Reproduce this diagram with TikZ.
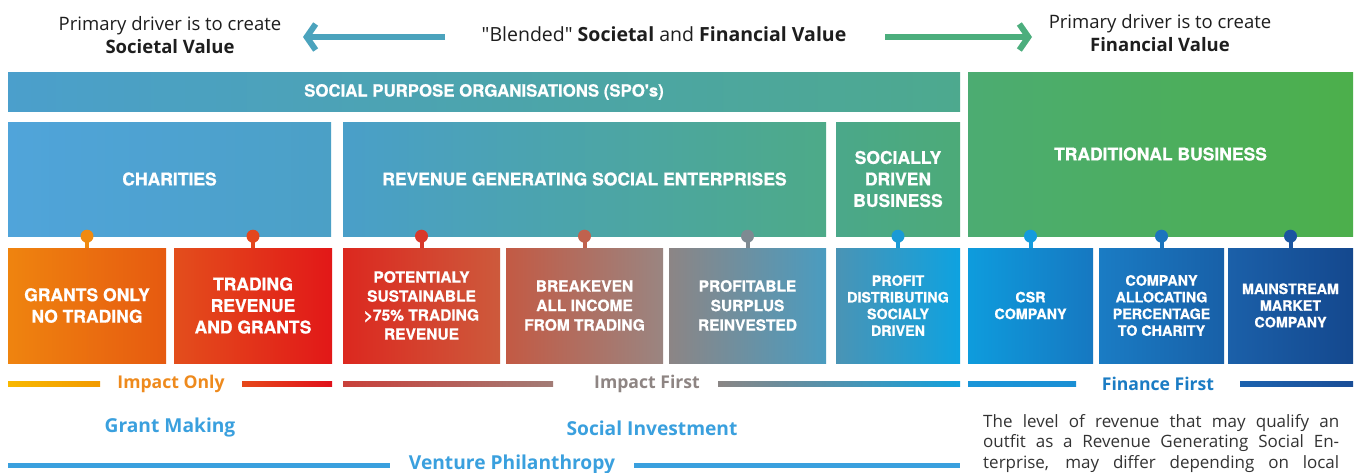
\documentclass[tikz,border=0pt]{standalone}
\usepackage{fontspec}
\setmainfont{Open Sans}
\newfontfamily\qfont{Open Sans}
\newfontfamily\boxfont{texgyreheros-bold.otf}[FakeBold=0.8]
\usetikzlibrary{arrows.meta}
\definecolor{txt}{HTML}{1E1E1E}
\definecolor{parcol}{HTML}{333333}
\definecolor{arrL}{HTML}{4BA3BD}
\definecolor{arrR}{HTML}{4CAE7D}
\definecolor{lblue}{HTML}{3AA0DE}
% box gradients
\definecolor{spoA}{HTML}{4B9FCC}\definecolor{spoB}{HTML}{4DA98E}
\definecolor{trA}{HTML}{4CAC72}\definecolor{trB}{HTML}{4CAF4B}
\definecolor{chA}{HTML}{50A4DA}\definecolor{chB}{HTML}{4BA0C6}
\definecolor{rgA}{HTML}{4A9FC9}\definecolor{rgB}{HTML}{4DAA88}
\definecolor{sdA}{HTML}{4BA88A}\definecolor{sdB}{HTML}{4CAA78}
\definecolor{grA}{HTML}{EF840F}\definecolor{grB}{HTML}{E65A10}
\definecolor{tdA}{HTML}{E34E1C}\definecolor{tdB}{HTML}{E21818}
\definecolor{poA}{HTML}{DC281F}\definecolor{poB}{HTML}{CD5A3C}
\definecolor{bkA}{HTML}{C35A44}\definecolor{bkB}{HTML}{9A8581}
\definecolor{pfA}{HTML}{8C8585}\definecolor{pfB}{HTML}{4A9CC0}
\definecolor{pdA}{HTML}{4A94B5}\definecolor{pdB}{HTML}{0EA2E0}
\definecolor{csA}{HTML}{0E9CDD}\definecolor{csB}{HTML}{1678C1}
\definecolor{alA}{HTML}{1A7CC4}\definecolor{alB}{HTML}{1860A8}
\definecolor{mnA}{HTML}{1B60A9}\definecolor{mnB}{HTML}{14488E}
% pins
\definecolor{pinGr}{HTML}{F08A0F}\definecolor{pinTd}{HTML}{E4461C}
\definecolor{pinPo}{HTML}{D8382A}\definecolor{pinBk}{HTML}{C0624E}
\definecolor{pinPf}{HTML}{7E8A92}\definecolor{pinPd}{HTML}{1A9AD6}
\definecolor{pinCs}{HTML}{139BDD}\definecolor{pinAl}{HTML}{1A74BD}
\definecolor{pinMn}{HTML}{1A55A0}
% bars
\definecolor{b1A}{HTML}{F8B800}\definecolor{b1B}{HTML}{F29A00}
\definecolor{b2A}{HTML}{E6481A}\definecolor{b2B}{HTML}{E0101A}
\definecolor{b3A}{HTML}{C9403A}\definecolor{b3B}{HTML}{A27C76}
\definecolor{b4A}{HTML}{8A8685}\definecolor{b4B}{HTML}{12A0DC}
\definecolor{b5A}{HTML}{1A95D8}\definecolor{b5B}{HTML}{1A8FD4}
\definecolor{b6A}{HTML}{1C62AE}\definecolor{b6B}{HTML}{1A4E97}
\definecolor{ionlyC}{HTML}{EE8A1D}
\definecolor{ifirstC}{HTML}{8E8583}
\definecolor{ffirstC}{HTML}{1B7CC4}
\begin{document}
\begin{tikzpicture}[x=1pt,y=-1pt,
  box/.style={draw=none, inner sep=0pt, text=white, align=center,
    font=\boxfont\fontsize{17.5}{21.5}\selectfont},
  mbox/.style={box, font=\boxfont\fontsize{15.5}{19.5}\selectfont},
  sbox/.style={box, font=\boxfont\fontsize{14.3}{16.7}\selectfont},
  pinstem/.style={draw=#1, line width=4pt},
  pinhead/.style={circle, fill=#1, inner sep=0pt, minimum size=13pt},
  toplbl/.style={align=center, text=txt, font=\fontsize{18.5}{23.5}\selectfont},
  band/.style={font=\bfseries\fontsize{17.6}{20}\selectfont},
  fund/.style={text=lblue, font=\bfseries\fontsize{19.2}{22}\selectfont},
  bigarrow/.style={line width=6pt, -{Straight Barb[length=9pt,width=26pt]}},
  parline/.style={anchor=west, inner sep=0pt, text=parcol, font=\fontsize{17}{20}\selectfont}
]
\useasboundingbox[fill=white] (0,0) rectangle (1357,472);

% top labels
\node[toplbl] (soc) at (170,35) {Primary driver is to create\\\textbf{Societal Value}};
\node[toplbl, font=\fontsize{19.5}{23.5}\selectfont] (blend) at (664,34) {{\qfont"}Blended{\qfont"} \textbf{Societal} and \textbf{Financial Value}};
\node[toplbl] (fin) at (1160,33) {Primary driver is to create\\\textbf{Financial Value}};
\coordinate (laS) at (445,37);
\coordinate (laE) at (303,37);
\coordinate (raS) at (885,37);
\coordinate (raE) at (1032,37);
\draw[bigarrow, draw=arrL] (laS) -- (laE);
\draw[bigarrow, draw=arrR] (raS) -- (raE);

% header boxes
\node[box, left color=spoA, right color=spoB, minimum width=952pt, minimum height=39pt,
  font=\boxfont\fontsize{16.8}{18}\selectfont] (spo) at (484,92) {SOCIAL PURPOSE ORGANISATIONS (SPO's)};
\node[box, left color=trA, right color=trB, minimum width=385pt, minimum height=164pt] (trad) at (1160.5,154) {TRADITIONAL BUSINESS};
\node[box, left color=chA, right color=chB, minimum width=323pt, minimum height=114pt] (char) at (169.5,179) {CHARITIES};
\node[box, left color=rgA, right color=rgB, minimum width=483pt, minimum height=114pt] (rgse) at (584.5,179) {REVENUE GENERATING SOCIAL ENTERPRISES};
\node[box, left color=sdA, right color=sdB, minimum width=124pt, minimum height=114pt] (sdb) at (898,179) {SOCIALLY\\DRIVEN\\BUSINESS};

% child boxes
\node[box, left color=grA, right color=grB, minimum width=158pt, minimum height=115pt] (grants) at (87,305.5) {GRANTS ONLY\\NO TRADING};
\node[box, left color=tdA, right color=tdB, minimum width=158pt, minimum height=115pt] (trading) at (253,305.5) {TRADING\\REVENUE\\AND GRANTS};
\node[mbox, left color=poA, right color=poB, minimum width=157pt, minimum height=115pt, font=\boxfont\fontsize{15.5}{19}\selectfont] (pot) at (421.5,305.5) {POTENTIALY\\SUSTAINABLE\\>75\% TRADING\\REVENUE};
\node[mbox, left color=bkA, right color=bkB, minimum width=157pt, minimum height=115pt] (brk) at (584.5,305.5) {BREAKEVEN\\ALL INCOME\\FROM TRADING};
\node[mbox, left color=pfA, right color=pfB, minimum width=157pt, minimum height=115pt] (prof) at (747.5,305.5) {PROFITABLE\\SURPLUS\\REINVESTED};
\node[sbox, left color=pdA, right color=pdB, minimum width=124pt, minimum height=115pt] (pdist) at (898,305.5) {PROFIT\\DISTRIBUTING\\SOCIALY\\DRIVEN};
\node[sbox, left color=csA, right color=csB, minimum width=125pt, minimum height=115pt] (csr) at (1030.5,305.5) {CSR\\COMPANY};
\node[sbox, left color=alA, right color=alB, minimum width=125pt, minimum height=115pt] (alloc) at (1161.5,305.5) {COMPANY\\ALLOCATING\\PERCENTAGE\\TO CHARITY};
\node[sbox, left color=mnA, right color=mnB, minimum width=125pt, minimum height=115pt] (main) at (1290.5,305.5) {MAINSTREAM\\MARKET\\COMPANY};

% pins (child -> parent)
\foreach \c/\p/\col in {grants/char/pinGr, trading/char/pinTd, pot/rgse/pinPo, brk/rgse/pinBk,
  prof/rgse/pinPf, pdist/sdb/pinPd, csr/trad/pinCs, alloc/trad/pinAl, main/trad/pinMn}{
  \draw[pinstem=\col] (\c.north) -- (\c.north |- \p.south) node[pinhead=\col]{};
}

% band labels and bars
\node[band, text=ionlyC] (ionly) at (171,384) {Impact Only};
\node[band, text=ifirstC] (ifirst) at (647,384) {Impact First};
\node[band, text=ffirstC] (ffirst) at (1158,384) {Finance First};
\fill[left color=b1A, right color=b1B] (8,381.5) rectangle (100,386.5);
\fill[left color=b2A, right color=b2B] (242,381.5) rectangle (332,386.5);
\fill[left color=b3A, right color=b3B] (343,381.5) rectangle (553,386.5);
\fill[left color=b4A, right color=b4B] (718,381.5) rectangle (960,386.5);
\fill[left color=b5A, right color=b5B] (968,381.5) rectangle (1076,386.5);
\fill[left color=b6A, right color=b6B] (1240,381.5) rectangle (1353,386.5);

% funding labels
\node[fund] (grantm) at (170,428) {Grant Making};
\node[fund] (socinv) at (652,428) {Social Investment};
\node[fund] (vphil) at (512,465) {Venture Philanthropy};
\fill[lblue] (8,462.5) rectangle (390,467.5);
\fill[lblue] (634,462.5) rectangle (960,467.5);

% paragraph
\node[parline] (p1) at (983,423) {\makebox[356pt][s]{The level of revenue that may qualify an}};
\node[parline] (p2) at (983,443.5) {\makebox[356pt][s]{outfit as a Revenue Generating Social En-}};
\node[parline] (p3) at (983,464) {\makebox[356pt][s]{terprise, may differ depending on local}};
\end{tikzpicture}
\end{document}
